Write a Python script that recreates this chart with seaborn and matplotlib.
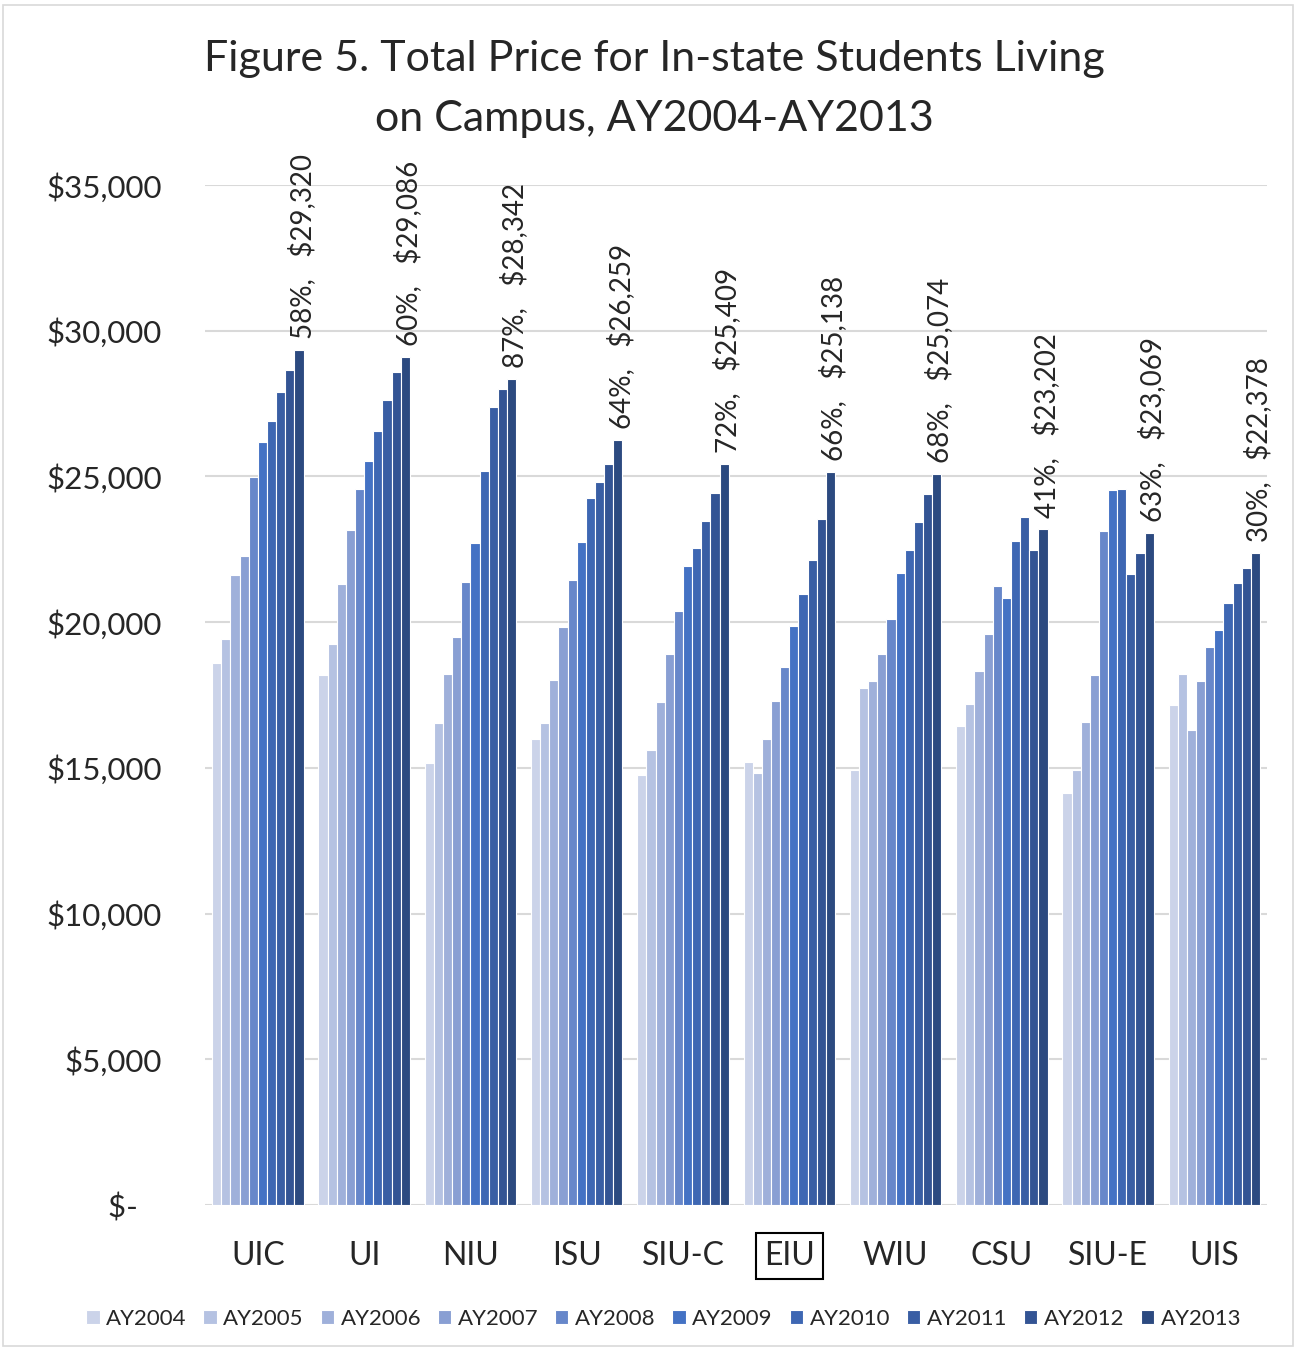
import pandas as pd
import matplotlib.pyplot as plt
import seaborn as sns

# --- data ---
schools = ["UIC", "UI", "NIU", "ISU", "SIU-C", "EIU", "WIU", "CSU", "SIU-E", "UIS"]
years = ["AY2004", "AY2005", "AY2006", "AY2007", "AY2008",
         "AY2009", "AY2010", "AY2011", "AY2012", "AY2013"]

uic = [18606, 19420, 21615, 22267, 24978, 26178, 26899, 27894, 28649, 29320]
ui = [18195, 19248, 21296, 23149, 24577, 25516, 26546, 27630, 28570, 29086]
niu = [15176, 16537, 18229, 19488, 21365, 22703, 25184, 27369, 27997, 28342]
isu = [15988, 16537, 18023, 19831, 21434, 22758, 24268, 24817, 25424, 26259]
siu_c = [14753, 15622, 17248, 18905, 20380, 21924, 22542, 23468, 24429, 25409]
eiu = [15189, 14822, 15978, 17292, 18459, 19876, 20953, 22130, 23537, 25138]
wiu = [14914, 17749, 17968, 18894, 20106, 21684, 22473, 23423, 24384, 25074]
csu = [16424, 17200, 18322, 19581, 21228, 20837, 22792, 23595, 22473, 23202]
siu_e = [14136, 14914, 16572, 18195, 23125, 24542, 24566, 21660, 22360, 23069]
uis = [17165, 18208, 16287, 17989, 19145, 19739, 20665, 21351, 21855, 22378]

pct_change = ["58%", "60%", "87%", "64%", "72%", "66%", "68%", "41%", "63%", "30%"]
y_ticks = [0, 5000, 10000, 15000, 20000, 25000, 30000, 35000]
y_tick_labels = ["$-   ", "$5,000", "$10,000", "$15,000", "$20,000",
                 "$25,000", "$30,000", "$35,000"]

colors = ["#cbd3e9", "#b5c2e2", "#9fb0da", "#899fd3", "#6787ca",
          "#4472c4", "#3e67b3", "#395ea4", "#335494", "#2c4a80"]

series = [uic, ui, niu, isu, siu_c, eiu, wiu, csu, siu_e, uis]
rows = []
for school, vals in zip(schools, series):
    for year, v in zip(years, vals):
        rows.append({"school": school, "year": year, "price": v})
df = pd.DataFrame(rows)

sns.set_style("white")
plt.rcParams["font.family"] = ["Lato", "DejaVu Sans"]

fig = plt.figure(figsize=(12.96, 13.49), dpi=100)
ax = fig.add_axes([0.158, 0.1067, 0.82, 0.7562])

sns.barplot(data=df, x="school", y="price", hue="year", palette=colors,
            saturation=1, width=0.86, edgecolor="white", linewidth=0.8, ax=ax)

ax.set_ylim(0, 35000)
ax.set_yticks(y_ticks)
ax.set_yticklabels(y_tick_labels, fontsize=22.5)
ax.yaxis.grid(True, color="#d9d9d9", linewidth=1.5)
ax.set_axisbelow(True)
for s in ax.spines.values():
    s.set_visible(False)
ax.tick_params(axis="both", length=0)
ax.tick_params(axis="y", pad=31)
ax.tick_params(axis="x", pad=26, labelsize=23)
ax.set_xlabel("")
ax.set_ylabel("")

# box around EIU label
for lbl in ax.get_xticklabels():
    if lbl.get_text() == "EIU":
        lbl.set_bbox(dict(boxstyle="square,pad=0.25", fc="none", ec="black", lw=1.5))

# labels over the AY2013 bars
last = ax.containers[-1]
for bar, pct, s in zip(last, pct_change, series):
    ax.annotate(f"{pct},   ${s[-1]:,}",
                xy=(bar.get_x() + bar.get_width() / 2, bar.get_height()),
                xytext=(2, 8), textcoords="offset points",
                rotation=90, ha="center", va="bottom", fontsize=20,
                annotation_clip=False)

ax.legend(loc="upper center", bbox_to_anchor=(0.432, -0.082), ncol=10,
          frameon=False, fontsize=16, handlelength=0.6, handleheight=0.6,
          handletextpad=0.3, columnspacing=0.75)

fig.suptitle("Figure 5. Total Price for In-state Students Living\non Campus, AY2004-AY2013",
             fontsize=31, y=0.970, x=0.505, linespacing=1.7)

fig.patches.append(plt.Rectangle((0.002, 0.002), 0.996, 0.994, transform=fig.transFigure,
                                 fill=False, ec="#d9d9d9", lw=1.2))

plt.savefig("out.png", dpi=100)
plt.close()
